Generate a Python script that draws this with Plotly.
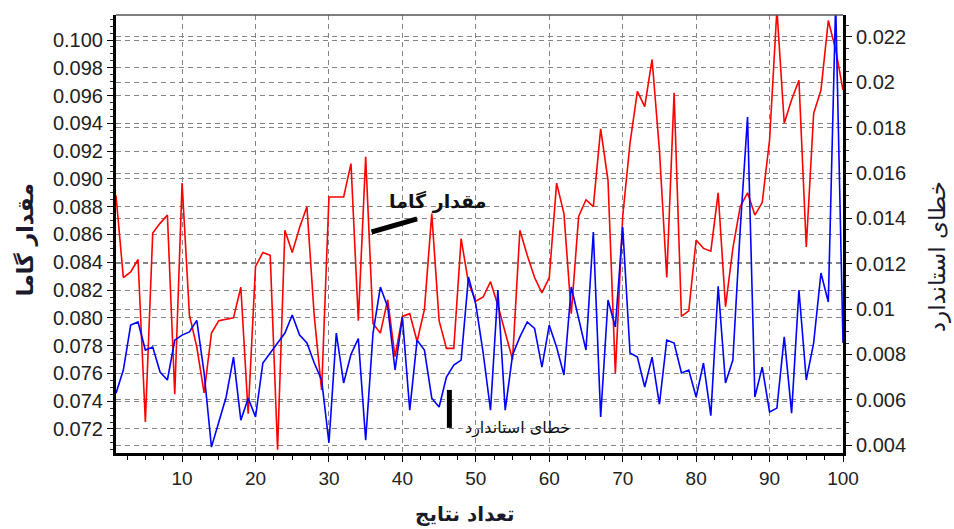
import plotly.graph_objects as go

x_vals = list(range(1, 101))

gamma = [
    0.0888, 0.0829, 0.0833, 0.0842, 0.0725, 0.0861, 0.0868, 0.0874, 0.0745, 0.0897,
    0.0802, 0.0779, 0.0746, 0.0789, 0.0798, 0.0799, 0.0800, 0.0822, 0.0731, 0.0837,
    0.0847, 0.0845, 0.0705, 0.0863, 0.0847, 0.0865, 0.0880, 0.0801, 0.0748, 0.0887,
    0.0887, 0.0887, 0.0911, 0.0798, 0.0916, 0.0796, 0.0789, 0.0813, 0.0772, 0.0801,
    0.0803, 0.0783, 0.0806, 0.0875, 0.0798, 0.0778, 0.0778, 0.0857, 0.0825, 0.0812,
    0.0815, 0.0826, 0.0809, 0.0789, 0.0770, 0.0863, 0.0845, 0.0829, 0.0818, 0.0829,
    0.0897, 0.0875, 0.0803, 0.0873, 0.0885, 0.0880, 0.0936, 0.0899, 0.0760, 0.0873,
    0.0926, 0.0963, 0.0952, 0.0986, 0.0921, 0.0829, 0.0962, 0.0801, 0.0805, 0.0856,
    0.0850, 0.0848, 0.0890, 0.0808, 0.0850, 0.0880, 0.0890, 0.0874, 0.0883, 0.0928,
    0.1022, 0.0940, 0.0957, 0.0971, 0.0851, 0.0947, 0.0964, 0.1014, 0.0993, 0.0964,
]

std_err = [
    0.00629, 0.00731, 0.00929, 0.00943, 0.00819, 0.00832, 0.00722, 0.00687, 0.00863, 0.00885,
    0.00899, 0.00950, 0.00718, 0.00391, 0.00502, 0.00612, 0.00788, 0.00510, 0.00607, 0.00524,
    0.00762, 0.00806, 0.00850, 0.00894, 0.00974, 0.00885, 0.00850, 0.00762, 0.00687, 0.00410,
    0.00894, 0.00674, 0.00800, 0.00870, 0.00422, 0.00894, 0.01097, 0.01009, 0.00731, 0.00965,
    0.00554, 0.00863, 0.00819, 0.00607, 0.00568, 0.00700, 0.00753, 0.00775, 0.01141, 0.01020,
    0.00806, 0.00554, 0.01084, 0.00554, 0.00797, 0.00877, 0.00943, 0.00915, 0.00744, 0.00929,
    0.00832, 0.00709, 0.01097, 0.00951, 0.00819, 0.01340, 0.00524, 0.01040, 0.00921, 0.01362,
    0.00806, 0.00788, 0.00656, 0.00788, 0.00580, 0.00863, 0.00850, 0.00718, 0.00731, 0.00612,
    0.00762, 0.00530, 0.01100, 0.00674, 0.00775, 0.01349, 0.01847, 0.00612, 0.00744, 0.00546,
    0.00563, 0.00877, 0.00541, 0.01084, 0.00687, 0.00850, 0.01159, 0.01031, 0.02350, 0.00850,
]

x_ticks = [10, 20, 30, 40, 50, 60, 70, 80, 90, 100]

left_title = "مقدار گاما"
right_title = "خطای استاندارد"
x_title = "تعداد نتایج"

TICK_FONT = dict(family="Arial, Liberation Sans, sans-serif", size=19, color="#222222")
AR_FONT = "DejaVu Sans, Arial, sans-serif"
GRID = dict(showgrid=True, gridcolor="#858585", gridwidth=1, griddash="5px,4px")

fig = go.Figure()
fig.add_trace(go.Scatter(x=x_vals, y=gamma, mode="lines",
                         line=dict(color="#ff0000", width=1.6), yaxis="y", showlegend=False))
fig.add_trace(go.Scatter(x=x_vals, y=std_err, mode="lines",
                         line=dict(color="#0000ff", width=1.6), yaxis="y2", showlegend=False))

fig.update_layout(
    width=954, height=529,
    margin=dict(l=116, r=111, t=15, b=76),
    paper_bgcolor="white", plot_bgcolor="white",
    xaxis=dict(range=[1, 100], tickvals=x_ticks, ticks="outside", ticklen=6, tickwidth=1,
               tickcolor="black", showline=True, linecolor="black", linewidth=3,
               tickfont=TICK_FONT, zeroline=False,
               minor=dict(dtick=2.5, tick0=0, ticks="outside", ticklen=4, tickcolor="black", showgrid=False),
               **GRID),
    yaxis=dict(range=[0.07027, 0.1018], dtick=0.002, tick0=0, tickformat=".3f",
               ticks="outside", ticklen=6, tickcolor="black", showline=True, linecolor="black",
               linewidth=3, tickfont=dict(TICK_FONT, size=20), zeroline=False,
               minor=dict(dtick=0.0005, tick0=0, ticks="outside", ticklen=3, tickcolor="#333", showgrid=False),
               **GRID),
    yaxis2=dict(range=[0.00365, 0.02297], dtick=0.002, tick0=0, tickformat=".3~f",
                overlaying="y", side="right", ticks="outside", ticklen=6, tickcolor="black",
                showline=True, linecolor="black", linewidth=3, tickfont=dict(TICK_FONT, size=20),
                zeroline=False,
                minor=dict(dtick=0.0005, tick0=0, ticks="outside", ticklen=3, tickcolor="#333", showgrid=False),
                **GRID),
)

# top border
fig.add_shape(type="line", xref="paper", yref="paper", x0=0, x1=1, y0=1, y1=1,
              line=dict(color="#555555", width=1.5))

# axis titles
fig.add_annotation(text="<b>" + left_title + "</b>", xref="paper", yref="paper", x=0, y=0.486,
                   xshift=-91, showarrow=False, textangle=-90, xanchor="center", yanchor="middle",
                   font=dict(family=AR_FONT, size=22, color="#1a1a2a"))
fig.add_annotation(text=right_title, xref="paper", yref="paper", x=1, y=0.447, xshift=94,
                   showarrow=False, textangle=-90, xanchor="center", yanchor="middle",
                   font=dict(family=AR_FONT, size=23, color="#1a1a2a"))
fig.add_annotation(text="<b>" + x_title + "</b>", xref="paper", yref="paper", x=0.48, y=0,
                   yshift=-61, showarrow=False, xanchor="center", yanchor="middle",
                   font=dict(family=AR_FONT, size=20, color="#1a1a2a"))

# in-plot labels
fig.add_annotation(text="<b>" + left_title + "</b>", x=44.9, y=0.08834, xref="x", yref="y",
                   showarrow=False, font=dict(family=AR_FONT, size=19, color="#111111"))
fig.add_shape(type="line", xref="x", yref="y", x0=35.8, y0=0.08618, x1=42.0, y1=0.08712,
              line=dict(color="black", width=5))
fig.add_annotation(text=right_title, x=55.7, y=0.0721, xref="x", yref="y", showarrow=False,
                   font=dict(family=AR_FONT, size=16, color="#111111"))
fig.add_shape(type="line", xref="x", yref="y", x0=46.4, y0=0.07481, x1=46.4, y1=0.07208,
              line=dict(color="black", width=5))

fig.write_html("out.html")
